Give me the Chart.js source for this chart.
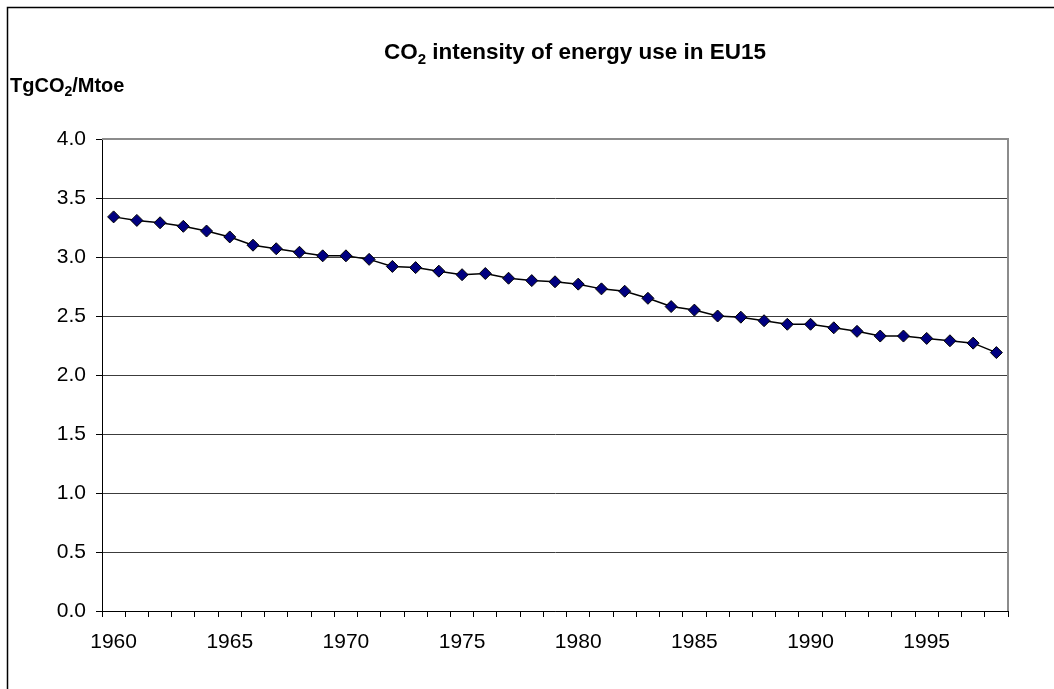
<!DOCTYPE html>
<html>
<head>
<meta charset="utf-8">
<script src="https://cdn.jsdelivr.net/npm/chart.js@4.4.1/dist/chart.umd.min.js"></script>
<style>
  html, body { margin: 0; padding: 0; background: #fff; }
  #wrap { width: 1054px; height: 689px; position: relative; }
</style>
</head>
<body>
<div id="wrap"><canvas id="co2Chart" width="1054" height="689"></canvas></div>
<script>
// Chart data
const years = [
  "1960", "1961", "1962", "1963", "1964", "1965", "1966", "1967", "1968", "1969",
  "1970", "1971", "1972", "1973", "1974", "1975", "1976", "1977", "1978", "1979",
  "1980", "1981", "1982", "1983", "1984", "1985", "1986", "1987", "1988", "1989",
  "1990", "1991", "1992", "1993", "1994", "1995", "1996", "1997", "1998",
];
const intensity = [
  3.34, 3.31, 3.29, 3.26, 3.22, 3.17, 3.10, 3.07, 3.04, 3.01,
  3.01, 2.98, 2.92, 2.91, 2.88, 2.85, 2.86, 2.82, 2.80, 2.79,
  2.77, 2.73, 2.71, 2.65, 2.58, 2.55, 2.50, 2.49, 2.46, 2.43,
  2.43, 2.40, 2.37, 2.33, 2.33, 2.31, 2.29, 2.27, 2.19,
];
const yMin = 0;
const yMax = 4;
const yStep = 0.5;

const FONT = "Arial, 'Liberation Sans', sans-serif";

// Draws frame, plot border, title and unit label (these carry subscripts)
const decorations = {
  id: "decorations",
  afterDraw(chart) {
    const ctx = chart.ctx;
    const area = chart.chartArea;
    ctx.save();

    // outer frame
    ctx.strokeStyle = "#000";
    ctx.lineWidth = 1.5;
    ctx.beginPath();
    ctx.moveTo(7.5, 700);
    ctx.lineTo(7.5, 7.5);
    ctx.lineTo(1060, 7.5);
    ctx.stroke();

    // plot top and right border
    ctx.strokeStyle = "#8c8c8c";
    ctx.lineWidth = 2;
    ctx.beginPath();
    ctx.moveTo(area.left, area.top);
    ctx.lineTo(area.right, area.top);
    ctx.lineTo(area.right, area.bottom);
    ctx.stroke();

    ctx.fillStyle = "#000";
    ctx.textBaseline = "alphabetic";
    ctx.textAlign = "left";

    // title with subscript
    const tSize = 22.5;
    const big = "bold " + tSize + "px " + FONT;
    const small = "bold " + Math.round(tSize * 0.66) + "px " + FONT;
    ctx.font = big;
    const w1 = ctx.measureText("CO").width;
    const w3 = ctx.measureText(" intensity of energy use in EU15").width;
    ctx.font = small;
    const w2 = ctx.measureText("2").width;
    let x = 575 - (w1 + w2 + w3) / 2;
    const ty = 59;
    ctx.font = big;
    ctx.fillText("CO", x, ty);
    x += w1;
    ctx.font = small;
    ctx.fillText("2", x, ty + 5);
    x += w2;
    ctx.font = big;
    ctx.fillText(" intensity of energy use in EU15", x, ty);

    // unit label
    const uSize = 20;
    const ub = "bold " + uSize + "px " + FONT;
    const us = "bold " + Math.round(uSize * 0.7) + "px " + FONT;
    let ux = 10;
    const uy = 92;
    ctx.font = ub;
    ctx.fillText("TgCO", ux, uy);
    ux += ctx.measureText("TgCO").width;
    ctx.font = us;
    ctx.fillText("2", ux, uy + 4);
    ux += ctx.measureText("2").width;
    ctx.font = ub;
    ctx.fillText("/Mtoe", ux, uy);

    ctx.restore();
  },
};

const ctx = document.getElementById("co2Chart").getContext("2d");

const chart = new Chart(ctx, {
  type: "line",
  data: {
    labels: years,
    datasets: [
      {
        label: "CO2 intensity",
        data: intensity,
        borderColor: "#000",
        borderWidth: 1.5,
        tension: 0,
        pointStyle: "rectRot",
        pointRadius: 6,
        pointHoverRadius: 6,
        pointBackgroundColor: "#000080",
        pointBorderColor: "#000",
        pointBorderWidth: 1,
      },
    ],
  },
  options: {
    responsive: false,
    animation: false,
    layout: {
      padding: { top: 139, right: 46, bottom: 0, left: 0 },
    },
    plugins: {
      legend: { display: false },
      title: { display: false },
      tooltip: { enabled: false },
    },
    scales: {
      x: {
        type: "category",
        offset: true,
        grid: {
          offset: true,
          drawOnChartArea: false,
          drawTicks: true,
          tickLength: 6,
          color: "#000",
        },
        border: { display: true, color: "#000", width: 1 },
        ticks: {
          autoSkip: false,
          maxRotation: 0,
          minRotation: 0,
          padding: 13,
          color: "#000",
          font: { family: FONT, size: 21 },
          callback: function (value, index) {
            const y = Number(years[index]);
            return y % 5 === 0 ? years[index] : "";
          },
        },
        afterFit: function (scale) {
          scale.height = 78;
        },
      },
      y: {
        min: yMin,
        max: yMax,
        grid: {
          color: "#3c3c3c",
          lineWidth: 1,
          tickLength: 6,
          tickColor: "#000",
        },
        border: { display: true, color: "#000", width: 1 },
        ticks: {
          stepSize: yStep,
          padding: 10,
          color: "#000",
          font: { family: FONT, size: 21 },
          callback: function (value) {
            return value.toFixed(1);
          },
        },
        afterFit: function (scale) {
          scale.width = 102;
        },
      },
    },
  },
  plugins: [decorations],
});
</script>
</body>
</html>
